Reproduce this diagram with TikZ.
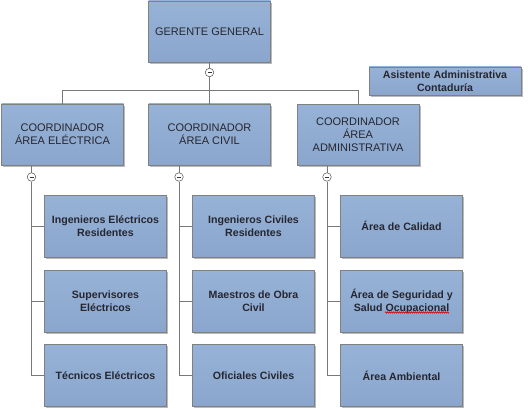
\documentclass[tikz,border=0pt]{standalone}
\usepackage{fontspec}
\setmainfont{Liberation Sans}
\usetikzlibrary{shadows,decorations.pathmorphing}

\definecolor{boxblue}{RGB}{150,178,214}
\definecolor{boxblueb}{RGB}{138,166,205}
\definecolor{boxline}{RGB}{128,128,128}
\definecolor{boxtext}{RGB}{38,38,48}
\definecolor{linkgray}{RGB}{120,120,120}

\begin{document}
\begin{tikzpicture}[x=1pt, y=-1pt,
  orgbox/.style={draw=boxline, line width=0.6pt, top color=boxblue, bottom color=boxblueb,
    drop shadow={shadow xshift=1.6pt, shadow yshift=-1.6pt, fill=black!45, opacity=0.6},
    text=boxtext, align=center, inner sep=2pt, font=\fontsize{11}{13}\selectfont},
  headbox/.style={orgbox, minimum width=122pt, minimum height=61pt},
  unitbox/.style={orgbox, minimum width=122pt, minimum height=62pt, font=\fontsize{10.6}{13}\selectfont\bfseries},
  helpbox/.style={orgbox, minimum width=152pt, minimum height=28pt, font=\fontsize{10.6}{13}\selectfont\bfseries},
  toggle/.style={circle, draw=black!70, fill=white, line width=0.5pt, inner sep=0pt, minimum size=8.5pt,
    path picture={\draw[black!80, line width=0.6pt] ([xshift=-2pt]path picture bounding box.center) -- ([xshift=2pt]path picture bounding box.center);}},
  link/.style={draw=linkgray, line width=0.8pt}]

\useasboundingbox (0,0) rectangle (530,409);

% we draw the links first, the boxes go on top
\coordinate (barL) at (62.5,90);
\coordinate (barM) at (209.5,90);
\coordinate (barR) at (358,90);

% top of the chart
\node[headbox] (ger) at (209.5,31.5) {GERENTE GENERAL};
\node[toggle] (tgGer) at (209.5,72.5) {};
\node[helpbox] (asist) at (445,81) {Asistente Administrativa\\Contaduría};

% coordinators
\node[headbox] (coElec) at (62.5,134.5) {COORDINADOR\\ÁREA ELÉCTRICA};
\node[headbox] (coCivil) at (209.5,134.5) {COORDINADOR\\ÁREA CIVIL};
\node[headbox] (coAdmin) at (358,135) {COORDINADOR\\ÁREA\\ADMINISTRATIVA};

\draw[link] (ger.south) -- (tgGer.north);
\draw[link] (tgGer.south) -- (barM);
\draw[link] (coElec.north) |- (barL) -- (barR) -- (coAdmin.north);
\draw[link] (barM) -- (coCivil.north);

% toggles under the coordinators
\node[toggle] (tgElec) at (31.5,177) {};
\node[toggle] (tgCivil) at (179,177) {};
\node[toggle] (tgAdmin) at (327,177) {};
\draw[link] (tgElec |- coElec.south) -- (tgElec.north);
\draw[link] (tgCivil |- coCivil.south) -- (tgCivil.north);
\draw[link] (tgAdmin |- coAdmin.south) -- (tgAdmin.north);

% area electrica
\node[unitbox] (ingElec) at (105.5,226) {Ingenieros Eléctricos\\Residentes};
\node[unitbox] (supElec) at (105.5,301) {Supervisores\\Eléctricos};
\node[unitbox] (tecElec) at (105.5,375.5) {Técnicos Eléctricos};
\draw[link] (tgElec.south) |- (tecElec.west);
\draw[link] (tgElec |- ingElec.west) -- (ingElec.west);
\draw[link] (tgElec |- supElec.west) -- (supElec.west);

% area civil
\node[unitbox] (ingCivil) at (253.5,226) {Ingenieros Civiles\\Residentes};
\node[unitbox] (maeCivil) at (253.5,301) {Maestros de Obra\\Civil};
\node[unitbox] (ofiCivil) at (253.5,375.5) {Oficiales Civiles};
\draw[link] (tgCivil.south) |- (ofiCivil.west);
\draw[link] (tgCivil |- ingCivil.west) -- (ingCivil.west);
\draw[link] (tgCivil |- maeCivil.west) -- (maeCivil.west);

% area administrativa
\node[unitbox] (calAdmin) at (401.5,226) {Área de Calidad};
\node[unitbox] (segAdmin) at (401.5,301) {Área de Seguridad y\\Salud Ocupacional};
\node[unitbox] (ambAdmin) at (401.5,375.5) {Área Ambiental};
\draw[link] (tgAdmin.south) |- (ambAdmin.west);
\draw[link] (tgAdmin |- calAdmin.west) -- (calAdmin.west);
\draw[link] (tgAdmin |- segAdmin.west) -- (segAdmin.west);

% the spell check mark under Ocupacional
\draw[red!85!black, line width=0.5pt, decorate, decoration={zigzag, amplitude=0.7pt, segment length=2pt}]
  (385,312.5) -- (449,312.5);

\end{tikzpicture}
\end{document}
